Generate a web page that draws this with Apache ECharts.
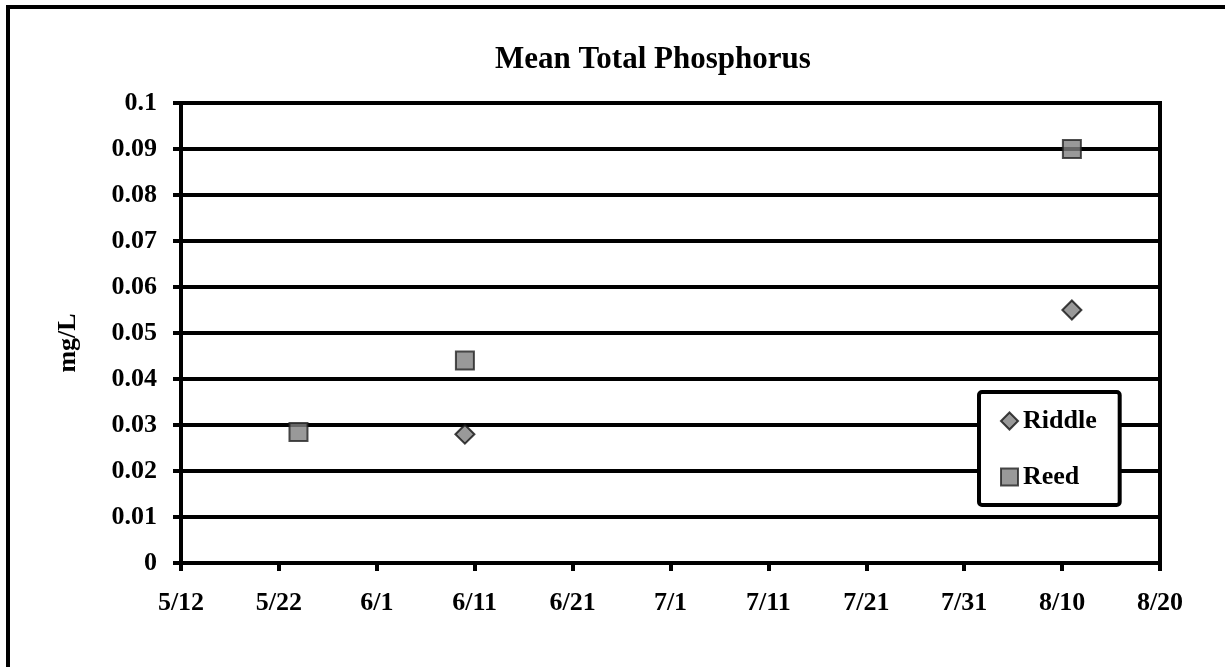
<!DOCTYPE html>
<html>
<head>
<meta charset="utf-8">
<script src="https://cdn.jsdelivr.net/npm/echarts@6/dist/echarts.min.js"></script>
<style>
    html, body { margin: 0; padding: 0; background: #fff; }
    #main { width: 1225px; height: 667px; }
</style>
</head>
<body>
<div id="main"></div>
<script>
// sample dates (M/D) and mean total phosphorus, mg/L
let riddleDates = ['6/10', '8/11'];
let riddleValues = [0.028, 0.055];
let reedDates = ['5/24', '6/10', '8/11'];
let reedValues = [0.0285, 0.044, 0.09];

let xTickLabels = ['5/12', '5/22', '6/1', '6/11', '6/21', '7/1', '7/11', '7/21', '7/31', '8/10', '8/20'];

let FONT = '"Liberation Serif", "Times New Roman", serif';

// days since 5/12, so the axis can run 0..100 by 10
function dayOffset(md) {
    let p = md.split('/');
    let start = Date.UTC(2009, 4, 12);
    return Math.round((Date.UTC(2009, +p[0] - 1, +p[1]) - start) / 86400000);
}

function pairs(dates, values) {
    return dates.map(function (d, i) {
        return [dayOffset(d), values[i]];
    });
}

document.addEventListener('DOMContentLoaded', function () {
    drawChart();
});

function drawChart() {

    let myChart = echarts.init(document.getElementById('main'));

    let option = {
        backgroundColor: '#fff',
        animation: false,
        textStyle: { fontFamily: FONT },
        title: {
            text: 'Mean Total Phosphorus',
            left: 490,
            top: 39,
            textStyle: { fontFamily: FONT, fontSize: 31, fontWeight: 'bold', color: '#000' }
        },
        graphic: [
            {
                type: 'rect',
                z: -10,
                shape: { x: 8, y: 7, width: 1400, height: 900 },
                style: { fill: 'none', stroke: '#000', lineWidth: 4 }
            }
        ],
        legend: {
            orient: 'vertical',
            left: 979,
            top: 392,
            padding: [16, 23, 15, 21],
            itemWidth: 17,
            itemHeight: 17,
            itemGap: 30,
            backgroundColor: '#fff',
            borderColor: '#000',
            borderWidth: 4,
            borderRadius: 3,
            textStyle: { fontFamily: FONT, fontSize: 26, fontWeight: 'bold', color: '#000', lineHeight: 26 },
            data: ['Riddle', 'Reed']
        },
        grid: {
            left: 181,
            top: 103,
            width: 979,
            height: 460,
            show: true,
            borderColor: '#000',
            borderWidth: 4,
            backgroundColor: 'transparent'
        },
        xAxis: {
            type: 'value',
            min: 0,
            max: 100,
            interval: 10,
            axisLine: { show: true, lineStyle: { color: '#000', width: 4 } },
            axisTick: { show: true, inside: false, length: 8, lineStyle: { color: '#000', width: 4 } },
            splitLine: { show: false },
            axisLabel: {
                margin: 27,
                fontFamily: FONT,
                fontSize: 26,
                fontWeight: 'bold',
                color: '#000',
                formatter: function (value) {
                    return xTickLabels[Math.round(value / 10)];
                }
            }
        },
        yAxis: {
            type: 'value',
            min: 0,
            max: 0.1,
            interval: 0.01,
            name: 'mg/L',
            nameLocation: 'middle',
            nameRotate: 90,
            nameGap: 100,
            nameTextStyle: {
                fontFamily: FONT, fontSize: 26, fontWeight: 'bold', color: '#000',
                padding: [0, 20, 0, 0]  // nudges the rotated name a bit lower
            },
            axisLine: { show: true, lineStyle: { color: '#000', width: 4 } },
            axisTick: { show: true, length: 8, lineStyle: { color: '#000', width: 4 } },
            splitLine: { show: true, lineStyle: { color: '#000', width: 4 } },
            axisLabel: {
                margin: 24,
                fontFamily: FONT,
                fontSize: 26,
                fontWeight: 'bold',
                color: '#000',
                formatter: function (value) {
                    return String(Math.round(value * 100) / 100);
                }
            }
        },
        series: [
            {
                name: 'Riddle',
                type: 'scatter',
                symbol: 'diamond',
                symbolSize: 19,
                data: pairs(riddleDates, riddleValues),
                itemStyle: { color: '#808080', borderColor: '#111', borderWidth: 2 },
                z: 5
            },
            {
                name: 'Reed',
                type: 'scatter',
                symbol: 'rect',
                symbolSize: 18,
                data: pairs(reedDates, reedValues),
                itemStyle: { color: '#808080', borderColor: '#222', borderWidth: 2 },
                z: 5
            }
        ]
    };

    myChart.setOption(option);
}
</script>
</body>
</html>
